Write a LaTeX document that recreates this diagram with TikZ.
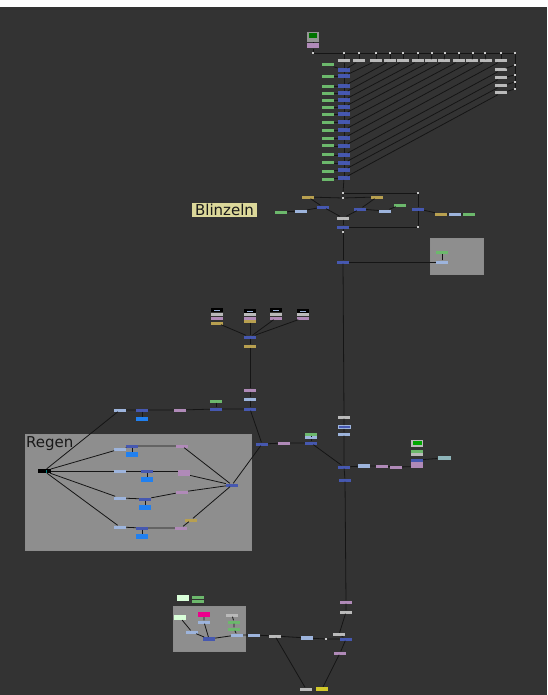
\documentclass[tikz,border=0pt]{standalone}
\usepackage{fontspec}
\newfontfamily\nukefont{DejaVu Sans}
\definecolor{bgdark}{HTML}{333333}
\definecolor{wirecol}{HTML}{151515}
\definecolor{nblue}{HTML}{4658B0}
\definecolor{nlblue}{HTML}{9DB4DC}
\definecolor{ngreen}{HTML}{6CB86C}
\definecolor{npink}{HTML}{B08AB8}
\definecolor{nochre}{HTML}{B8A050}
\definecolor{nwhite}{HTML}{BABABA}
\definecolor{nbright}{HTML}{2080F0}
\definecolor{boxgray}{HTML}{8E8E8E}
\definecolor{lblyellow}{HTML}{DCD89A}
\begin{document}
\begin{tikzpicture}[x=1pt, y=-1pt,
  nd/.style={rectangle, inner sep=0pt, minimum width=12pt, minimum height=3pt, draw=none},
  blu/.style={nd, fill=nblue},
  lblu/.style={nd, fill=nlblue},
  grn/.style={nd, fill=ngreen},
  pnk/.style={nd, fill=npink},
  ylw/.style={nd, fill=nochre},
  wht/.style={nd, fill=nwhite},
  brt/.style={nd, fill=nbright, minimum height=4.5pt},
  dotn/.style={rectangle, inner sep=0pt, minimum size=2.4pt, fill=nwhite!80!white},
  thumb/.style={nd, minimum height=8pt, fill=nwhite!80!black},
  wire/.style={draw=wirecol, line width=0.8pt},
  backdrop/.style={rectangle, inner sep=0pt, fill=boxgray, draw=black!45, line width=0.6pt},
  lbl/.style={inner sep=0.5pt, text=black!90, font=\nukefont\fontsize{15}{15}\selectfont}
]
\useasboundingbox (0,0) rectangle (547,695);
\fill[white] (0,0) rectangle (547,7);
\fill[bgdark] (0,7) rectangle (547,695);

% backdrops
\node[backdrop, minimum width=53pt, minimum height=36pt] (grade) at (456.5,256) {};
\node[backdrop, minimum width=226pt, minimum height=116pt] (regen) at (138,492) {};
\node[lbl, anchor=north west, inner sep=0pt] (regentxt) at (26,436) {Regen};
\node[backdrop, minimum width=72pt, minimum height=45pt] (comp) at (209,628.5) {};

% top read + grid of masks
\node[thumb, minimum height=10pt] (read0) at (313,37) {};
\node[nd, minimum width=8pt, minimum height=5pt, fill=green!45!black] (read0img) at (313,36) {};
\node[pnk, minimum height=5pt] (read0p) at (313,46) {};
\node[dotn] (d0) at (313,53) {};
\draw[wire] (read0) -- (read0p) -- (d0);

\foreach \x [count=\i] in {344,359,376,390,403,418,432,445,459,473,485,501,515} {
  \node[dotn] (dt\i) at (\x,53) {};
}
\foreach \x [count=\i] in {344,359,376,390,403,418,431,444,459,472,486,501} {
  \node[wht] (w\i) at (\x,61) {};
  \draw[wire] (dt\i) -- (w\i);
}
\foreach \y [count=\i] in {65,75,82,89} {
  \node[dotn] (dr\i) at (515,\y) {};
}
\foreach \y [count=\i] in {70,78,86,93} {
  \node[wht] (rw\i) at (501,\y) {};
  \draw[wire] (dr\i) -- (rw\i);
}
\draw[wire] (d0) -- (dt1);
\foreach \i [evaluate=\i as \j using int(\i+1)] in {1,...,12} {
  \draw[wire] (dt\i) -- (dt\j);
}
\draw[wire] (dt13) -- (dr1) -- (dr2) -- (dr3) -- (dr4);

\foreach \y [count=\i] in {70,76,86,93,100,107,114,122,130,138,146,155,163,170,178} {
  \node[blu, minimum height=3.6pt] (b\i) at (344,\y) {};
}
\foreach \y [count=\i] in {65,77,87,94,101,108,115,123,131,139,146,155,163,171,179} {
  \node[grn] (g\i) at (328,\y) {};
  \draw[wire] (g\i) -- (b\i);
}
\draw[wire] (w1) -- (b1);
\foreach \i [evaluate=\i as \j using int(\i+1)] in {1,...,14} {
  \draw[wire] (b\i) -- (b\j);
}
\foreach \i [evaluate=\i as \j using int(\i-1)] in {2,...,12} {
  \draw[wire] (w\i) -- (b\j);
}
\foreach \i [evaluate=\i as \j using int(\i+11)] in {1,...,4} {
  \draw[wire] (rw\i) -- (b\j);
}

% Blinzeln
\node[dotn] (ds1) at (343,193) {};
\node[dotn] (ds2) at (343,198) {};
\node[dotn] (dc1) at (418,193) {};
\node[ylw] (ya) at (308,197) {};
\node[ylw] (yb) at (377,197) {};
\node[blu] (ba) at (323,207) {};
\node[blu] (bb) at (360,209) {};
\node[lblu] (lba) at (301,211) {};
\node[grn] (ga) at (281,212) {};
\node[lblu] (lbb) at (385,211) {};
\node[grn] (gb) at (400,205) {};
\node[wht] (mw) at (343,218) {};
\node[blu] (bm) at (343,227) {};
\node[blu] (bc) at (418,209) {};
\node[dotn] (dc2) at (418,227) {};
\node[ylw] (yc) at (441,214) {};
\node[lblu] (lbc) at (455,214) {};
\node[grn] (gc) at (469,214) {};
\node[dotn] (ds3) at (343,232) {};
\node[lbl, fill=lblyellow, minimum width=65pt, minimum height=14pt] (blinzeln) at (224.5,210) {Blinzeln};
\draw[wire] (b15) -- (ds1) -- (ds2);
\draw[wire] (ds1) -- (dc1) -- (bc) -- (dc2) -- (bm);
\draw[wire] (ds2) -- (ya) -- (ba);
\draw[wire] (ds2) -- (yb) -- (bb);
\draw[wire] (ga) -- (lba) -- (ba) -- (mw);
\draw[wire] (gb) -- (lbb) -- (bb) -- (mw);
\draw[wire] (mw) -- (bm) -- (ds3);
\draw[wire] (bc) -- (yc) -- (lbc) -- (gc);

% grade box
\node[blu] (bn) at (343,262) {};
\node[grn] (gg) at (442,252) {};
\node[lblu] (lbg) at (442,262) {};
\draw[wire] (ds3) -- (bn) -- (lbg) -- (gg);

% four reads
\foreach \x/\t [count=\i] in {217/310,250/311,276/310,303/311} {
  \node[nd, minimum height=4pt, fill=black] (rd\i) at (\x,\t) {};
  \node[nd, minimum width=6pt, minimum height=1pt, fill=nlblue] (rdi\i) at (\x,\t) {};
  \node[wht, minimum height=3pt] (rg\i) at (\x,314.5) {};
  \node[pnk] (rp\i) at (\x,318) {};
}
\node[ylw] (ry1) at (217,323) {};
\node[ylw] (ry2) at (250,321) {};
\node[blu] (bj) at (250,337) {};
\node[ylw] (yj) at (250,346) {};
\node[pnk] (pj) at (250,390) {};
\node[lblu] (lbj) at (250,399) {};
\node[blu] (bk) at (250,409) {};
\draw[wire] (ry1) -- (bj);
\draw[wire] (ry2) -- (bj);
\draw[wire] (rp3) -- (bj);
\draw[wire] (rp4) -- (bj);
\draw[wire] (bj) -- (yj) -- (pj) -- (lbj) -- (bk);

% upper rain row
\node[lblu] (lbl) at (120,410) {};
\node[blu] (bl) at (142,410) {};
\node[brt] (xl) at (142,419) {};
\node[pnk] (pl) at (180,410) {};
\node[grn] (gk) at (216,401) {};
\node[blu] (bk2) at (216,409) {};
\draw[wire] (lbl) -- (bl) -- (pl) -- (bk2) -- (bk);
\draw[wire] (bl) -- (xl);
\draw[wire] (gk) -- (bk2);

% Regen
\node[nd, minimum width=13pt, minimum height=4pt, fill=black] (kb) at (44,471) {};
\node[nd, minimum width=1pt, minimum height=3pt, fill=teal] (kbi) at (46,471) {};
\foreach \ly/\bx/\by/\px/\py [count=\i] in {449/132/446/182/446, 471/147/471/184/471, 498/145/499/182/492, 527/142/528/181/528} {
  \node[lblu] (lr\i) at (120,\ly) {};
  \node[blu] (br\i) at (\bx,\by) {};
  \node[brt] (xr\i) at (\bx,\by+8.5) {};
  \node[pnk] (pr\i) at (\px,\py) {};
  \draw[wire] (kb) -- (lr\i) -- (br\i) -- (pr\i);
  \draw[wire] (br\i) -- (xr\i);
}
\node[pnk] (pr2b) at (184,474) {};
\node[ylw] (yr4) at (191,520) {};
\node[blu] (mg) at (232,485) {};
\draw[wire] (kb) -- (lbl);
\draw[wire] (pr1) -- (mg);
\draw[wire] (pr2b) -- (mg);
\draw[wire] (pr3) -- (mg);
\draw[wire] (pr4) -- (yr4) -- (mg);

% join to spine
\node[blu] (bx) at (262,444) {};
\node[pnk] (px) at (284,443) {};
\node[grn] (gy) at (311,434) {};
\node[lblu] (lby) at (311,437.5) {};
\node[blu] (by) at (311,443) {};
\draw[wire] (bk) -- (bx);
\draw[wire] (mg) -- (bx) -- (px) -- (by);
\draw[wire] (gy) -- (lby) -- (by);

\node[wht] (ws1) at (344,417) {};
\node[blu, draw=nlblue, line width=0.6pt] (bs2) at (344,427) {};
\node[lblu] (lbs) at (344,434) {};
\node[blu] (bs3) at (344,467) {};
\node[blu] (bs4) at (345,480) {};
\draw[wire] (bn) -- (ws1) -- (bs2) -- (lbs) -- (bs3) -- (bs4);
\draw[wire] (by) -- (bs3);

% right stack
\node[lblu, minimum height=3.6pt] (lbr) at (364,466) {};
\node[pnk] (pr5) at (382,466) {};
\node[pnk] (pr6) at (396,467) {};
\node[thumb, minimum height=7pt, fill=nwhite] (st0) at (417,443) {};
\node[nd, minimum width=9pt, minimum height=4.5pt, fill=green!65!black] (st0i) at (417,443) {};
\node[grn] (st1) at (417,451) {};
\node[wht] (st2) at (417,454) {};
\node[blu] (st3) at (417,460) {};
\node[pnk] (st4) at (417,463.2) {};
\node[pnk] (st5) at (417,466.6) {};
\node[lblu, minimum width=13pt, minimum height=3.6pt, fill=nlblue!70!ngreen] (lg) at (444,458) {};
\draw[wire] (bs3) -- (lbr) -- (pr5) -- (pr6) -- (st5);
\draw[wire] (st3) -- (lg);

% bottom
\node[pnk] (ps) at (346,602) {};
\node[wht] (wsb) at (346,612) {};
\node[wht] (wb) at (339,634.5) {};
\node[blu] (bbt) at (346,639) {};
\node[dotn] (db) at (326,639) {};
\node[pnk] (pb) at (340,653) {};
\node[nd, minimum height=4pt, fill=yellow!80!black] (yb2) at (322,689) {};
\node[wht] (wb2) at (306,689) {};
\draw[wire] (bs4) -- (ps) -- (wsb) -- (wb) -- (bbt);

\node[thumb, minimum height=6pt, fill=green!15!white] (lt1) at (183,598) {};
\node[grn] (lg2) at (198,597) {};
\node[grn] (lg3) at (198,601) {};
\node[thumb, minimum height=5pt, fill=green!15!white] (tg) at (180,617.5) {};
\node[nd, minimum height=5pt, fill=magenta] (mgt) at (204,614.5) {};
\node[wht] (wt) at (232,615) {};
\node[lblu] (lb1) at (204,622) {};
\node[grn] (gr1) at (234,622) {};
\node[grn] (gr2) at (234,629) {};
\node[lblu] (lb2) at (192,632) {};
\node[blu, minimum height=3.6pt] (bx2) at (209,639) {};
\node[lblu] (lb3) at (237,635) {};
\node[lblu] (lb4) at (254,635) {};
\node[wht] (wo) at (275,636) {};
\node[lblu, minimum height=3.6pt] (lb5) at (307,638) {};
\draw[wire] (tg) -- (lb2) -- (bx2);
\draw[wire] (mgt) -- (lb1) -- (bx2);
\draw[wire] (wt) -- (gr1) -- (gr2) -- (lb3);
\draw[wire] (bx2) -- (lb3) -- (lb4) -- (wo) -- (lb5) -- (db) -- (bbt);
\draw[wire] (bbt) -- (pb) -- (yb2);
\draw[wire] (wo) -- (wb2);
\end{tikzpicture}
\end{document}
